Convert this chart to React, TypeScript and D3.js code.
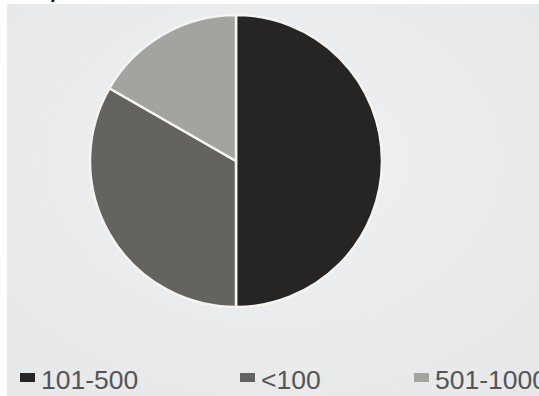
import React from "react";
import * as d3 from "d3";

const categories = ["101-500", "<100", "501-1000"];
const values = [50, 33.3, 16.7];
const colors = ["#262523", "#64635f", "#a3a39f"];
const legendOffsets = [20, 240, 414];
const titleText = "period,";

const W = 539;
const H = 396;

export default function App() {
  const cx = 236;
  const cy = 161;
  const r = 146;
  const pie = d3.pie<number>().sort(null).startAngle(0).endAngle(2 * Math.PI);
  const arcs = pie(values);
  const arc = d3.arc<d3.PieArcDatum<number>>().innerRadius(0).outerRadius(r);
  const legendX = d3.scaleOrdinal<string, number>().domain(categories).range(legendOffsets);

  return (
    <svg
      width={W}
      height={H}
      style={{ position: "absolute", left: 0, top: 0, display: "block" }}
    >
      <defs>
        <radialGradient id="bg" cx="50%" cy="40%" r="75%">
          <stop offset="0%" stopColor="#eef0f1" />
          <stop offset="100%" stopColor="#e6e8e9" />
        </radialGradient>
      </defs>
      <rect x={0} y={0} width={W} height={H} fill="#ffffff" />
      <rect x={7} y={4} width={W - 7} height={H - 4} fill="url(#bg)" />
      <text
        x={52}
        y={-5}
        fontFamily="Liberation Sans, Arial, sans-serif"
        fontStyle="italic"
        fontSize={32}
        fill="#111"
      >
        {titleText}
      </text>
      <g transform={`translate(${cx},${cy})`}>
        {arcs.map((a, i) => (
          <path
            key={categories[i]}
            d={arc(a) || ""}
            fill={colors[i]}
            stroke="#f4f4f2"
            strokeWidth={2.5}
            strokeLinejoin="round"
          />
        ))}
      </g>
      <g>
        {categories.map((c, i) => {
          const x = legendX(c);
          return (
            <g key={c} transform={`translate(${x},0)`}>
              <rect x={0} y={373} width={15} height={9} fill={colors[i]} />
              <text
                x={21}
                y={389}
                fontFamily="Liberation Sans, Arial, sans-serif"
                fontSize={26.5}
                fill="#555555"
              >
                {c}
              </text>
            </g>
          );
        })}
      </g>
    </svg>
  );
}
